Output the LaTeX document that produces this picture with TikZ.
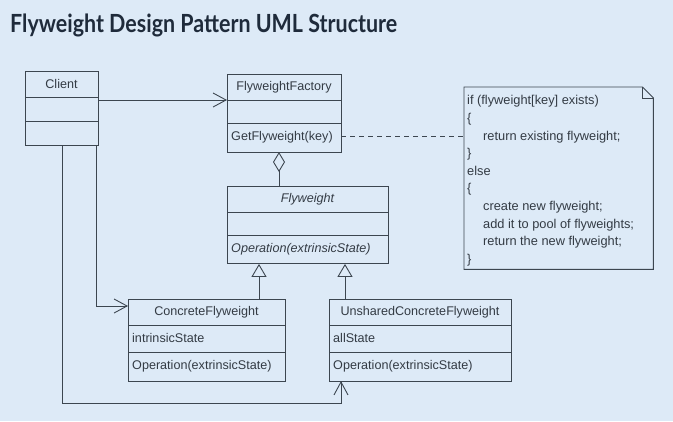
\documentclass[tikz,border=0pt]{standalone}
\usepackage{fontspec}
\setmainfont{Liberation Sans}
\newfontfamily\titlefont{Lato}
\usetikzlibrary{arrows.meta}
\definecolor{bg}{HTML}{DDEAF7}
\definecolor{ln}{HTML}{3C4650}
\definecolor{tx}{HTML}{333B44}
\definecolor{ttl}{HTML}{1F2B3B}
\newlength{\ttlwidth}
\newcommand{\ttltext}{Flyweight Design Pattern UML Structure}
\newcommand{\ttlfont}{\titlefont\bfseries\fontsize{25}{28}\selectfont}
\begin{document}
\settowidth{\ttlwidth}{\ttlfont\ttltext}
\pgfmathsetmacro{\ttlsx}{387/\ttlwidth}
\begin{tikzpicture}[x=1pt,y=-1pt,
  box/.style={draw=ln, line width=0.9pt, rectangle, inner sep=0pt, anchor=north west},
  sep/.style={draw=ln, line width=0.9pt},
  lbl/.style={text=tx, font=\fontsize{12.6}{14}\selectfont, inner sep=0pt},
  conn/.style={draw=ln, line width=0.9pt},
  nav/.style={conn, -{Straight Barb[length=13pt,width=14pt,line width=0.9pt]}},
  gen/.style={conn, -{Triangle[open,length=13pt,width=15pt,line width=0.9pt]}},
  agg/.style={conn, {Diamond[open,length=20pt,width=12pt,line width=0.9pt]}-},
  notelink/.style={conn, dash pattern=on 5pt off 4pt}
]
\fill[bg] (0,0) rectangle (673,421);
\useasboundingbox (0,0) rectangle (673,421);

% title
\node[anchor=base west, inner sep=0pt, text=ttl, font=\ttlfont] (title) at (10,32) {\scalebox{\ttlsx}[1]{\ttltext}};

% Client
\node[box, minimum width=73pt, minimum height=74pt] (client) at (25,71) {};
\draw[sep] (client.north west) ++(0,26) -- ++(73,0);
\draw[sep] (client.north west) ++(0,50) -- ++(73,0);
\node[lbl] (clientname) at (61.5,84) {Client};

% FlyweightFactory
\node[box, minimum width=114pt, minimum height=78pt] (factory) at (227,74) {};
\draw[sep] (factory.north west) ++(0,26) -- ++(114,0);
\draw[sep] (factory.north west) ++(0,49) -- ++(114,0);
\node[lbl] (factoryname) at (284,87) {FlyweightFactory};
\node[lbl, anchor=west] (factoryop) at (231,137) {GetFlyweight(key)};

% Flyweight
\node[box, minimum width=161pt, minimum height=77pt] (fw) at (227,186) {};
\draw[sep] (fw.north west) ++(0,26) -- ++(161,0);
\draw[sep] (fw.north west) ++(0,49) -- ++(161,0);
\node[lbl, font=\itshape\fontsize{12.6}{14}\selectfont] (fwname) at (307.5,199) {Flyweight};
\node[lbl, anchor=west, font=\itshape\fontsize{12.6}{14}\selectfont] (fwop) at (231,249) {Operation(extrinsicState)};

% ConcreteFlyweight
\node[box, minimum width=157pt, minimum height=82pt] (cf) at (128,299) {};
\draw[sep] (cf.north west) ++(0,26) -- ++(157,0);
\draw[sep] (cf.north west) ++(0,53) -- ++(157,0);
\node[lbl] (cfname) at (206.5,312) {ConcreteFlyweight};
\node[lbl, anchor=west] (cfattr) at (132,338) {intrinsicState};
\node[lbl, anchor=west] (cfop) at (132,366) {Operation(extrinsicState)};

% UnsharedConcreteFlyweight
\node[box, minimum width=182pt, minimum height=82pt] (uf) at (329,299) {};
\draw[sep] (uf.north west) ++(0,26) -- ++(182,0);
\draw[sep] (uf.north west) ++(0,53) -- ++(182,0);
\node[lbl] (ufname) at (420,312) {UnsharedConcreteFlyweight};
\node[lbl, anchor=west] (ufattr) at (333,338) {allState};
\node[lbl, anchor=west] (ufop) at (333,366) {Operation(extrinsicState)};

% note
\node[anchor=north west, minimum width=189pt, minimum height=182pt, inner sep=0pt] (note) at (464,87) {};
\draw[conn, line join=miter] (note.north west) -- ([xshift=-11pt]note.north east) -- ([yshift=-11pt]note.north east) -- (note.south east) -- (note.south west) -- cycle;
\draw[conn] ([xshift=-11pt]note.north east) -- ([xshift=-11pt,yshift=-11pt]note.north east) -- ([yshift=-11pt]note.north east);
\node[anchor=north west, align=left, inner sep=0pt, text=tx, font=\fontsize{12.8}{17.6}\selectfont] (notetext) at (467,95.5) {%
if (flyweight[key] exists)\\
\{\\
\hspace*{16pt}return existing flyweight;\\
\}\\
else\\
\{\\
\hspace*{16pt}create new flyweight;\\
\hspace*{16pt}add it to pool of flyweights;\\
\hspace*{16pt}return the new flyweight;\\
\}};

% connectors
\coordinate (fa) at (227,100);
\draw[nav] (client.east |- fa) -- (fa);

\coordinate (d1) at (279,152);
\draw[agg] (d1) -- (d1 |- fw.north);

\coordinate (g1) at (259,299);
\draw[gen] (g1) -- (g1 |- fw.south);
\coordinate (g2) at (345,299);
\draw[gen] (g2) -- (g2 |- fw.south);

\coordinate (cl2) at (96,145);
\coordinate (cw) at (128,306);
\draw[nav] (cl2) |- (cw);

\coordinate (bot) at (0,403);
\coordinate (us) at (341,381);
\draw[nav] (client.south) -- (client.south |- bot) -| (us);

\coordinate (dk) at (341,136);
\draw[notelink] (dk) -- (dk -| note.west);
\end{tikzpicture}
\end{document}
